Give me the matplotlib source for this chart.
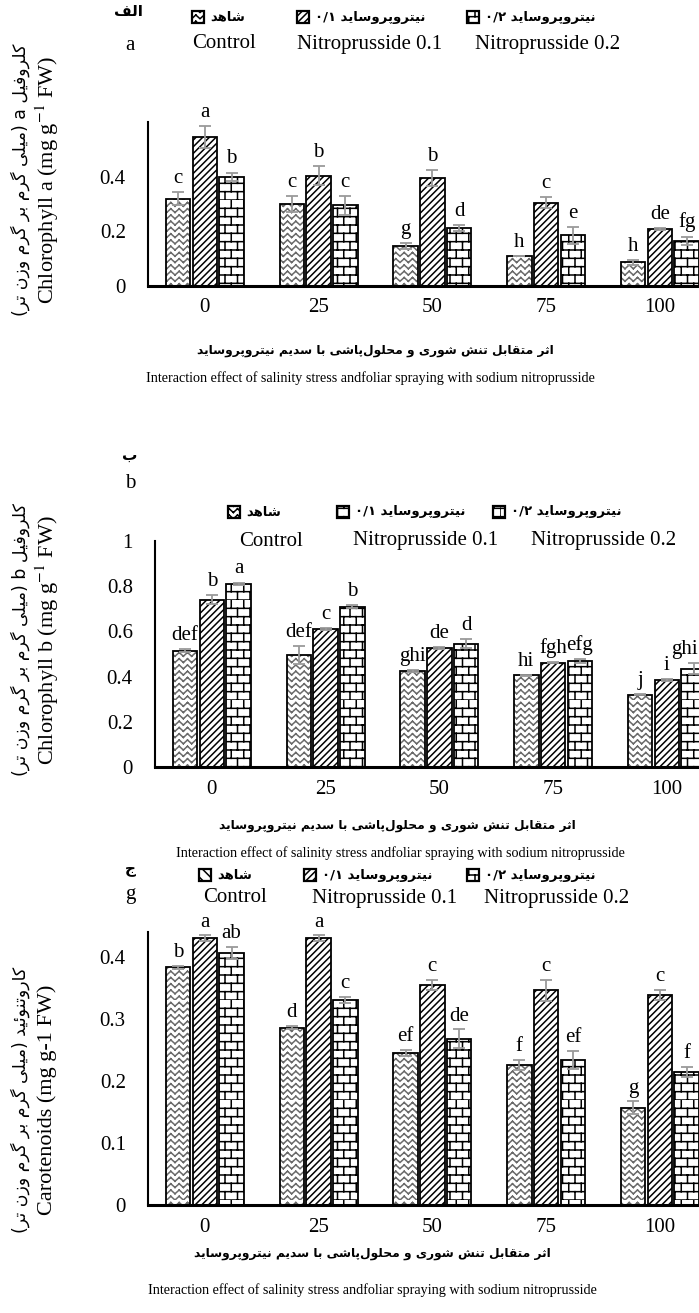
import numpy as np
import matplotlib
matplotlib.use("Agg")
import matplotlib.pyplot as plt
import matplotlib.hatch as mhatch
from matplotlib.path import Path
from matplotlib.patches import Rectangle

# ---------------------------------------------------------------- data
salinity = ["0", "25", "50", "75", "100"]
series_en = ["Control", "Nitroprusside 0.1", "Nitroprusside 0.2"]

chla_control = [0.32, 0.30, 0.146, 0.109, 0.086]
chla_np01 = [0.546, 0.403, 0.395, 0.304, 0.208]
chla_np02 = [0.40, 0.295, 0.212, 0.185, 0.166]
chla_control_err = [0.025, 0.03, 0.01, 0.0, 0.01]
chla_np01_err = [0.04, 0.035, 0.03, 0.02, 0.004]
chla_np02_err = [0.015, 0.035, 0.01, 0.03, 0.015]
chla_control_let = ["c", "c", "g", "h", "h"]
chla_np01_let = ["a", "b", "b", "c", "de"]
chla_np02_let = ["b", "c", "d", "e", "fg"]

chlb_control = [0.515, 0.495, 0.425, 0.405, 0.32]
chlb_np01 = [0.74, 0.61, 0.525, 0.462, 0.385]
chlb_np02 = [0.81, 0.71, 0.545, 0.468, 0.435]
chlb_control_err = [0.005, 0.04, 0.005, 0.003, 0.003]
chlb_np01_err = [0.02, 0.004, 0.005, 0.003, 0.005]
chlb_np02_err = [0.006, 0.006, 0.02, 0.008, 0.025]
chlb_control_let = ["def", "def", "ghi", "hi", "j"]
chlb_np01_let = ["b", "c", "de", "fgh", "i"]
chlb_np02_let = ["a", "b", "d", "efg", "ghi"]

car_control = [0.383, 0.286, 0.245, 0.226, 0.157]
car_np01 = [0.43, 0.43, 0.355, 0.346, 0.339]
car_np02 = [0.406, 0.331, 0.268, 0.234, 0.215]
car_control_err = [0.003, 0.003, 0.005, 0.008, 0.01]
car_np01_err = [0.005, 0.005, 0.008, 0.017, 0.008]
car_np02_err = [0.01, 0.005, 0.015, 0.015, 0.008]
car_control_let = ["b", "d", "ef", "f", "g"]
car_np01_let = ["a", "a", "c", "c", "c"]
car_np02_let = ["ab", "c", "de", "ef", "f"]

# ------------------------------------------------- Persian text shaping
FORMS = {
    "ا": (0xFE8D, 0xFE8E, None, None),
    "ب": (0xFE8F, 0xFE90, 0xFE91, 0xFE92),
    "پ": (0xFB56, 0xFB57, 0xFB58, 0xFB59),
    "ت": (0xFE95, 0xFE96, 0xFE97, 0xFE98),
    "ث": (0xFE99, 0xFE9A, 0xFE9B, 0xFE9C),
    "ج": (0xFE9D, 0xFE9E, 0xFE9F, 0xFEA0),
    "ح": (0xFEA1, 0xFEA2, 0xFEA3, 0xFEA4),
    "د": (0xFEA9, 0xFEAA, None, None),
    "ر": (0xFEAD, 0xFEAE, None, None),
    "ز": (0xFEAF, 0xFEB0, None, None),
    "س": (0xFEB1, 0xFEB2, 0xFEB3, 0xFEB4),
    "ش": (0xFEB5, 0xFEB6, 0xFEB7, 0xFEB8),
    "ف": (0xFED1, 0xFED2, 0xFED3, 0xFED4),
    "ق": (0xFED5, 0xFED6, 0xFED7, 0xFED8),
    "ک": (0xFB8E, 0xFB8F, 0xFB90, 0xFB91),
    "گ": (0xFB92, 0xFB93, 0xFB94, 0xFB95),
    "ل": (0xFEDD, 0xFEDE, 0xFEDF, 0xFEE0),
    "م": (0xFEE1, 0xFEE2, 0xFEE3, 0xFEE4),
    "ن": (0xFEE5, 0xFEE6, 0xFEE7, 0xFEE8),
    "ه": (0xFEE9, 0xFEEA, 0xFEEB, 0xFEEC),
    "و": (0xFEED, 0xFEEE, None, None),
    "ی": (0xFBFC, 0xFBFD, 0xFBFE, 0xFBFF),
    "ئ": (0xFE89, 0xFE8A, 0xFE8B, 0xFE8C),
}
DUAL = {k for k, v in FORMS.items() if v[2] is not None}
RIGHT_ONLY = {k for k, v in FORMS.items() if v[2] is None}
MIRROR = {"(": ")", ")": "("}


def shape(text):
    out = []
    for i, ch in enumerate(text):
        if ch not in FORMS:
            out.append(ch)
            continue
        prev = text[i - 1] if i > 0 else ""
        nxt = text[i + 1] if i + 1 < len(text) else ""
        to_prev = prev in DUAL
        to_next = ch in DUAL and (nxt in DUAL or nxt in RIGHT_ONLY)
        iso, fin, ini, med = FORMS[ch]
        if to_prev and to_next:
            cp = med
        elif to_prev:
            cp = fin
        elif to_next:
            cp = ini
        else:
            cp = iso
        out.append(chr(cp))
    return "".join(c for c in out if c != "\u200c")


def rtl(text):
    """Shape a Persian run and put it in left-to-right display order."""
    return "".join(MIRROR.get(c, c) for c in reversed(shape(text)))


# ------------------------------------------------------ custom hatches
class BrickHatch(mhatch.HatchPatternBase):
    rows, cols = 12, 8

    def __init__(self, hatch, density):
        on = "O" in hatch
        self.num_vertices = (self.rows * 2 + self.rows * self.cols * 2) if on else 0

    def set_vertices_and_codes(self, vertices, codes):
        pts = []
        for r in range(self.rows):
            y0, y1 = r / self.rows, (r + 1) / self.rows
            pts += [(0.0, y0), (1.0, y0)]
            off = 0.5 / self.cols if r % 2 else 0.0
            for c in range(self.cols):
                x = c / self.cols + off
                pts += [(x, y0), (x, y1)]
        vertices[:] = pts
        codes[0::2] = Path.MOVETO
        codes[1::2] = Path.LINETO


class ZigzagHatch(mhatch.HatchPatternBase):
    rows, teeth = 16, 12

    def __init__(self, hatch, density):
        on = "*" in hatch
        self.num_vertices = self.rows * self.teeth * 4 if on else 0

    def set_vertices_and_codes(self, vertices, codes):
        pts = []
        amp = 0.6 / self.rows
        for r in range(self.rows):
            y = r / self.rows
            for t in range(self.teeth):
                x0 = t / self.teeth
                xm = x0 + 0.5 / self.teeth
                x1 = (t + 1) / self.teeth
                pts += [(x0, y), (xm, y + amp), (xm, y + amp), (x1, y)]
        vertices[:] = pts
        codes[0::2] = Path.MOVETO
        codes[1::2] = Path.LINETO


ht = mhatch._hatch_types
ht[ht.index(mhatch.LargeCircles)] = BrickHatch
ht[ht.index(mhatch.Stars)] = ZigzagHatch

plt.rcParams["hatch.linewidth"] = 1.1
plt.rcParams["mathtext.fontset"] = "stix"

SERIF = ["Liberation Serif", "DejaVu Serif"]
FA = ["DejaVu Sans"]

W, H = 699, 1313
fig = plt.figure(figsize=(W / 100, H / 100), dpi=100)


def fx(x):
    return x / W


def fy(y):
    return 1 - y / H


GROUP_PX = 113.75
BAR_W = 0.215
OFFS = [-0.235, 0.0, 0.235]
HATCHES = ["*", "/////", "O"]
ERR_COLOR = "#9a9a9a"

fa_letters = [rtl("الف"), rtl("ب"), rtl("ج")]
en_letters = ["a", "b", "g"]
fa_items = [rtl("شاهد"), "۰/۱ " + rtl("نیتروپروساید"), "۰/۲ " + rtl("نیتروپروساید")]
paren = rtl("(میلی گرم بر گرم وزن تر)")
ylabel_fa = [paren + " a " + rtl("کلروفیل"),
             paren + " b " + rtl("کلروفیل"),
             paren + " " + rtl("کاروتنوئید")]
ylabel_en = [r"Chlorophyll a (mg g$^{-1}$ FW)",
             r"Chlorophyll b (mg g$^{-1}$ FW)",
             "Carotenoids (mg g-1 FW)"]
xlabel_fa = rtl("اثر متقابل تنش شوری و محلول\u200cپاشی با سدیم نیتروپروساید")
xlabel_en = "Interaction effect of salinity stress andfoliar spraying with sodium nitroprusside"

panels = [
    dict(vals=[chla_control, chla_np01, chla_np02],
         errs=[chla_control_err, chla_np01_err, chla_np02_err],
         lets=[chla_control_let, chla_np01_let, chla_np02_let],
         top=122, bottom=286, left=148, ymax=0.6,
         ticks=[0, 0.2, 0.4], ticklabels=["0", "0.2", "0.4"], lab_pad=3,
         fa_letter=(128, 12), en_letter=(130, 45), leg_fa_y=17, leg_en_y=44,
         leg_box_x=[192, 297, 467], leg_en_x=[192, 297, 475],
         leg_hatch=["*", "/////", "O"],
         xfa=(375, 350), xen=(370, 378), ylab_y=180),
    dict(vals=[chlb_control, chlb_np01, chlb_np02],
         errs=[chlb_control_err, chlb_np01_err, chlb_np02_err],
         lets=[chlb_control_let, chlb_np01_let, chlb_np02_let],
         top=541, bottom=767, left=155, ymax=1.0,
         ticks=[0, 0.2, 0.4, 0.6, 0.8, 1.0],
         ticklabels=["0", "0.2", "0.4", "0.6", "0.8", "1"], lab_pad=3,
         fa_letter=(130, 455), en_letter=(130, 484), leg_fa_y=512, leg_en_y=541,
         leg_box_x=[228, 337, 493], leg_en_x=[239, 353, 531],
         leg_hatch=["*", "O", "O"],
         xfa=(397, 826), xen=(400, 853), ylab_y=640),
    dict(vals=[car_control, car_np01, car_np02],
         errs=[car_control_err, car_np01_err, car_np02_err],
         lets=[car_control_let, car_np01_let, car_np02_let],
         top=932, bottom=1205, left=148, ymax=0.44,
         ticks=[0, 0.1, 0.2, 0.3, 0.4],
         ticklabels=["0", "0.1", "0.2", "0.3", "0.4"], lab_pad=2.5,
         fa_letter=(130, 868), en_letter=(130, 895), leg_fa_y=875, leg_en_y=898,
         leg_box_x=[199, 304, 467], leg_en_x=[203, 312, 484],
         leg_hatch=["\\\\\\", "/////", "O"],
         xfa=(372, 1254), xen=(372, 1290), ylab_y=1100),
]

x = np.arange(len(salinity))
bar_labels = []

for i, p in enumerate(panels):
    ax = fig.add_axes([fx(p["left"]), fy(p["bottom"]),
                       5 * GROUP_PX / W, (p["bottom"] - p["top"]) / H])
    for k in range(3):
        xs = x + OFFS[k]
        vals = p["vals"][k]
        errs = p["errs"][k]
        if k == 0:
            ax.bar(xs, vals, BAR_W, color="white", edgecolor="#6a6a6a",
                   linewidth=0, hatch=HATCHES[k], zorder=2)
            ax.bar(xs, vals, BAR_W, fill=False, edgecolor="black",
                   linewidth=1.3, zorder=3)
        else:
            ax.bar(xs, vals, BAR_W, color="white", edgecolor="black",
                   linewidth=1.3, hatch=HATCHES[k], zorder=2)
        ax.errorbar(xs, vals, yerr=errs, fmt="none", ecolor=ERR_COLOR,
                    elinewidth=1.3, capsize=4, capthick=1.3, zorder=4)
        for xi, v, e, lab in zip(xs, vals, errs, p["lets"][k]):
            t = ax.annotate(lab, (xi, v + e), xytext=(0, p["lab_pad"]),
                            textcoords="offset points", ha="center", va="bottom",
                            fontsize=15, family=SERIF, annotation_clip=False)
            bar_labels.append(t)
    ax.set_xlim(-0.5, 4.5)
    ax.set_ylim(0, p["ymax"])
    ax.set_yticks(p["ticks"])
    ax.set_yticklabels(p["ticklabels"], family=SERIF, fontsize=15)
    ax.set_xticks(x)
    ax.set_xticklabels(salinity, family=SERIF, fontsize=15)
    ax.tick_params(axis="y", length=0, pad=16)
    ax.tick_params(axis="x", length=0, pad=9)
    for s in ("top", "right"):
        ax.spines[s].set_visible(False)
    ax.spines["left"].set_linewidth(1.5)
    ax.spines["bottom"].set_linewidth(2.2)

    # panel letters
    fig.text(fx(p["fa_letter"][0]), fy(p["fa_letter"][1]), fa_letters[i],
             family=FA, fontsize=11, fontweight="bold", ha="center", va="center")
    fig.text(fx(p["en_letter"][0]), fy(p["en_letter"][1]), en_letters[i],
             family=SERIF, fontsize=15, ha="center", va="center")

    # legend rows
    for k in range(3):
        bx = p["leg_box_x"][k]
        fig.add_artist(Rectangle((fx(bx), fy(p["leg_fa_y"] + 6)), 12 / W, 12 / H,
                                 transform=fig.transFigure, facecolor="white",
                                 edgecolor="black", linewidth=1.6,
                                 hatch=p["leg_hatch"][k]))
        fig.text(fx(bx + 18), fy(p["leg_fa_y"]), fa_items[k], family=FA,
                 fontsize=9.5, fontweight="bold", ha="left", va="center")
        fig.text(fx(p["leg_en_x"][k]), fy(p["leg_en_y"]), series_en[k],
                 family=SERIF, fontsize=15, ha="left", va="center")

    # axis titles
    fig.text(fx(p["xfa"][0]), fy(p["xfa"][1]), xlabel_fa, family=FA,
             fontsize=8.8, fontweight="bold", ha="center", va="center")
    fig.text(fx(p["xen"][0]), fy(p["xen"][1]), xlabel_en, family=SERIF,
             fontsize=10.2, ha="center", va="center")
    fig.text(fx(20), fy(p["ylab_y"]), ylabel_fa[i], family=FA, fontsize=12.5,
             rotation=90, ha="center", va="center")
    fig.text(fx(47), fy(p["ylab_y"]), ylabel_en[i], family=SERIF, fontsize=16,
             rotation=90, ha="center", va="center")

# keep letter labels next to the right edge inside the canvas
fig.canvas.draw()
renderer = fig.canvas.get_renderer()
for t in bar_labels:
    bb = t.get_window_extent(renderer)
    if bb.x1 > W - 1:
        dx_pt = (bb.x1 - (W - 1)) * 72 / fig.dpi
        t.xyann = (t.xyann[0] - dx_pt, t.xyann[1])

fig.savefig("out.png", dpi=100, facecolor="white")
